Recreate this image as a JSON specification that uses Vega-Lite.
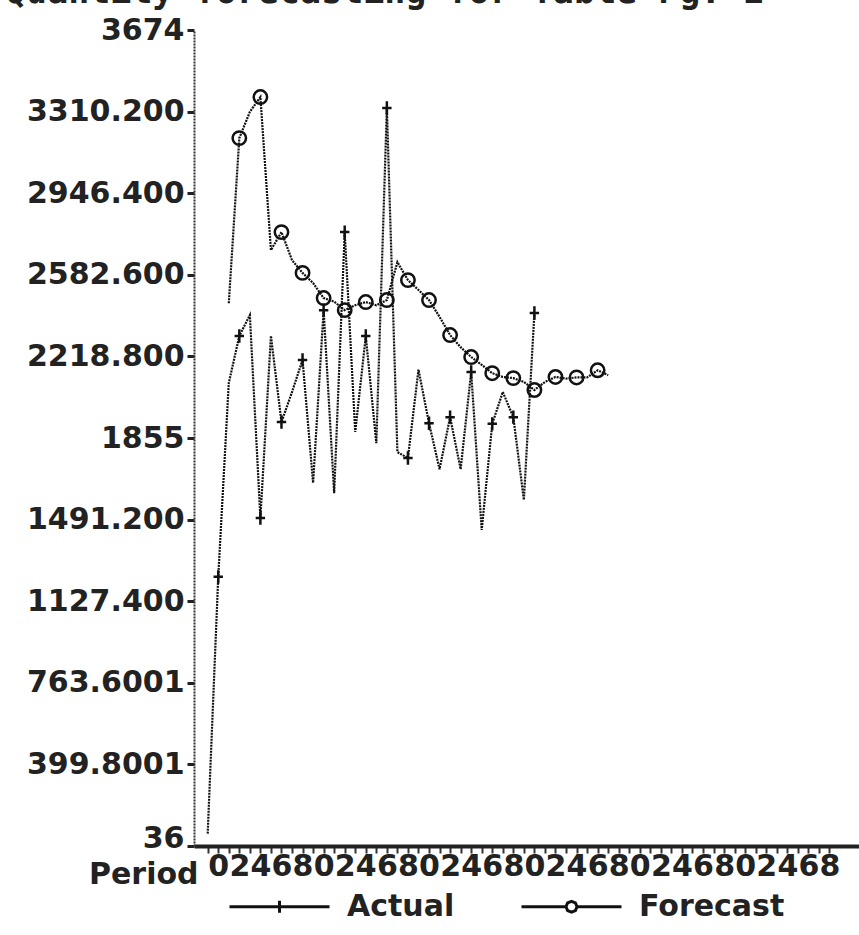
{
  "$schema": "https://vega.github.io/schema/vega-lite/v6.json",
  "width": 665,
  "height": 816,
  "autosize": {"type": "none"},
  "padding": {"left": 194, "top": 30, "right": 0, "bottom": 89},
  "background": "white",
  "title": {"text": "Quantity forecasting for Table      Pg. 1", "anchor": "start", "frame": "group", "dx": -189, "offset": -23, "baseline": "alphabetic", "font": "DejaVu Sans Mono", "fontSize": 35, "fontWeight": "bold", "color": "#222"},
  "config": {"view": {"stroke": null}, "font": "DejaVu Sans"},
  "resolve": {"scale": {"shape": "independent"}, "legend": {"shape": "independent"}},
  "data": {"values": [
    {"period": -1, "series": "Actual", "value": 91},
    {"period": 0, "series": "Actual", "value": 1236},
    {"period": 1, "series": "Actual", "value": 2100},
    {"period": 2, "series": "Actual", "value": 2310},
    {"period": 3, "series": "Actual", "value": 2403},
    {"period": 4, "series": "Actual", "value": 1498},
    {"period": 5, "series": "Actual", "value": 2310},
    {"period": 6, "series": "Actual", "value": 1926},
    {"period": 7, "series": "Actual", "value": 2060},
    {"period": 8, "series": "Actual", "value": 2203},
    {"period": 9, "series": "Actual", "value": 1655},
    {"period": 10, "series": "Actual", "value": 2425},
    {"period": 11, "series": "Actual", "value": 1609},
    {"period": 12, "series": "Actual", "value": 2773},
    {"period": 13, "series": "Actual", "value": 1882},
    {"period": 14, "series": "Actual", "value": 2310},
    {"period": 15, "series": "Actual", "value": 1832},
    {"period": 16, "series": "Actual", "value": 3326},
    {"period": 17, "series": "Actual", "value": 1792},
    {"period": 18, "series": "Actual", "value": 1766},
    {"period": 19, "series": "Actual", "value": 2160},
    {"period": 20, "series": "Actual", "value": 1921},
    {"period": 21, "series": "Actual", "value": 1716},
    {"period": 22, "series": "Actual", "value": 1948},
    {"period": 23, "series": "Actual", "value": 1716},
    {"period": 24, "series": "Actual", "value": 2149},
    {"period": 25, "series": "Actual", "value": 1445},
    {"period": 26, "series": "Actual", "value": 1918},
    {"period": 27, "series": "Actual", "value": 2060},
    {"period": 28, "series": "Actual", "value": 1948},
    {"period": 29, "series": "Actual", "value": 1579},
    {"period": 30, "series": "Actual", "value": 2412},
    {"period": 1, "series": "Forecast", "value": 2456},
    {"period": 2, "series": "Forecast", "value": 3192},
    {"period": 3, "series": "Forecast", "value": 3309},
    {"period": 4, "series": "Forecast", "value": 3375},
    {"period": 5, "series": "Forecast", "value": 2693},
    {"period": 6, "series": "Forecast", "value": 2773},
    {"period": 7, "series": "Forecast", "value": 2648},
    {"period": 8, "series": "Forecast", "value": 2591},
    {"period": 9, "series": "Forecast", "value": 2546},
    {"period": 10, "series": "Forecast", "value": 2479},
    {"period": 11, "series": "Forecast", "value": 2463},
    {"period": 12, "series": "Forecast", "value": 2425},
    {"period": 13, "series": "Forecast", "value": 2447},
    {"period": 14, "series": "Forecast", "value": 2461},
    {"period": 15, "series": "Forecast", "value": 2447},
    {"period": 16, "series": "Forecast", "value": 2470},
    {"period": 17, "series": "Forecast", "value": 2639},
    {"period": 18, "series": "Forecast", "value": 2559},
    {"period": 19, "series": "Forecast", "value": 2515},
    {"period": 20, "series": "Forecast", "value": 2470},
    {"period": 21, "series": "Forecast", "value": 2395},
    {"period": 22, "series": "Forecast", "value": 2314},
    {"period": 23, "series": "Forecast", "value": 2260},
    {"period": 24, "series": "Forecast", "value": 2216},
    {"period": 25, "series": "Forecast", "value": 2181},
    {"period": 26, "series": "Forecast", "value": 2144},
    {"period": 27, "series": "Forecast", "value": 2127},
    {"period": 28, "series": "Forecast", "value": 2122},
    {"period": 29, "series": "Forecast", "value": 2105},
    {"period": 30, "series": "Forecast", "value": 2069},
    {"period": 31, "series": "Forecast", "value": 2105},
    {"period": 32, "series": "Forecast", "value": 2127},
    {"period": 33, "series": "Forecast", "value": 2120},
    {"period": 34, "series": "Forecast", "value": 2125},
    {"period": 35, "series": "Forecast", "value": 2125},
    {"period": 36, "series": "Forecast", "value": 2157},
    {"period": 37, "series": "Forecast", "value": 2135}
  ]},
  "encoding": {
    "x": {
      "field": "period", "type": "quantitative",
      "scale": {"domain": [-2.3, 60.8], "nice": false, "zero": false},
      "axis": {
        "title": "Period",
        "values": [-1,0,1,2,3,4,5,6,7,8,9,10,11,12,13,14,15,16,17,18,19,20,21,22,23,24,25,26,27,28,29,30,31,32,33,34,35,36,37,38,39,40,41,42,43,44,45,46,47,48,49,50,51,52,53,54,55,56,57,58],
        "labelExpr": "datum.value >= 0 && datum.value % 2 == 0 ? '' + (datum.value % 10) : ''",
        "grid": false,
        "domainWidth": 4, "domainColor": "#222",
        "tickSize": 7, "tickWidth": 2, "tickColor": "#333",
        "labelFont": "DejaVu Sans", "labelFontSize": 30, "labelFontWeight": "bold", "labelColor": "#222",
        "labelPadding": -2, "labelOverlap": false, "labelFlush": false,
        "titleFont": "DejaVu Sans", "titleFontSize": 30, "titleFontWeight": "bold", "titleColor": "#222",
        "titleX": 4, "titleY": 13, "titleAlign": "right", "titleBaseline": "top", "titleAngle": 0
      }
    },
    "y": {
      "field": "value", "type": "quantitative",
      "scale": {"domain": [36, 3674], "nice": false, "zero": false},
      "axis": {
        "title": null,
        "values": [36, 399.8001, 763.6001, 1127.4, 1491.2, 1855, 2218.8, 2582.6, 2946.4, 3310.2, 3674],
        "labelExpr": "datum.value == 36 ? '36' : datum.value == 3674 ? '3674' : datum.value == 1855 ? '1855' : datum.value < 1000 ? format(datum.value, '.4f') : format(datum.value, '.3f')",
        "labelOffset": {"condition": {"test": "datum.value == 36", "value": -8}, "value": 0},
        "grid": false,
        "domainDash": [2, 1], "domainWidth": 2, "domainColor": "#333",
        "tickSize": 7, "tickWidth": 3, "tickColor": "#222",
        "labelFont": "DejaVu Sans", "labelFontSize": 30, "labelFontWeight": "bold", "labelColor": "#222",
        "labelPadding": 3, "labelOverlap": false, "labelFlush": false, "labelBaseline": "middle"
      }
    }
  },
  "layer": [
    {
      "mark": {"type": "line", "strokeWidth": 2.2, "strokeDash": [2, 1], "color": "#111"},
      "encoding": {"detail": {"field": "series"}}
    },
    {
      "transform": [{"filter": "datum.period >= 0 && datum.period % 2 == 0"}],
      "mark": {"type": "point", "filled": false, "strokeWidth": 2.5, "color": "#111", "size": 180, "opacity": 1},
      "encoding": {
        "shape": {
          "field": "series", "type": "nominal",
          "scale": {"domain": ["Actual", "Forecast"], "range": ["M-0.7,0H0.7M0,-1V1", "circle"]},
          "legend": null
        }
      }
    },
    {
      "transform": [{"filter": "datum.period < -100"}],
      "mark": {"type": "point", "filled": false, "strokeWidth": 3, "color": "#111"},
      "encoding": {
        "shape": {
          "field": "series", "type": "nominal",
          "scale": {"domain": ["Actual", "Forecast"], "range": ["M-1,0H1M-0.07,0H0.07M0,-0.12V0.12", "M-1,0H-0.11M0.11,0H1M0.11,0L0.078,0.078L0,0.11L-0.078,0.078L-0.11,0L-0.078,-0.078L0,-0.11L0.078,-0.078Z"]},
          "legend": {
            "title": null, "orient": "none", "legendX": 34, "legendY": 825, "direction": "horizontal",
            "symbolSize": 10000, "symbolStrokeWidth": 3, "symbolStrokeColor": "#111", "symbolFillColor": "transparent", "symbolOpacity": 1,
            "labelFont": "DejaVu Sans", "labelFontSize": 30, "labelFontWeight": "bold", "labelColor": "#222",
            "columnPadding": 60, "labelOffset": 16, "padding": 0
          }
        }
      }
    }
  ]
}
